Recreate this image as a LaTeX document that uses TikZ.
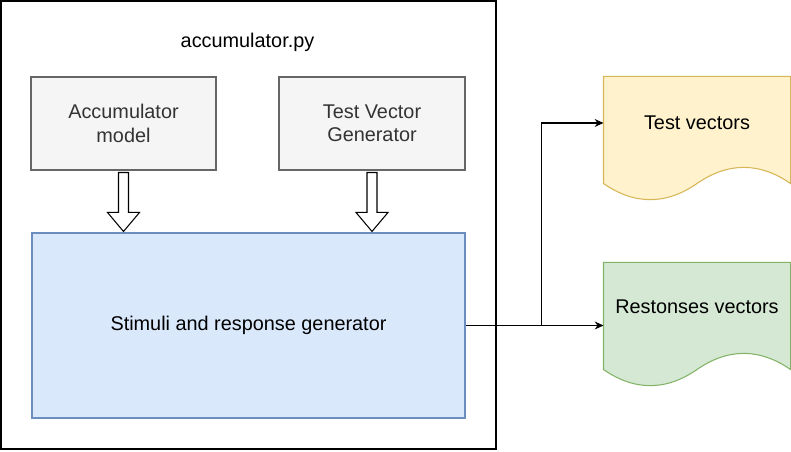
\documentclass[tikz,border=0pt]{standalone}
\usepackage{fontspec}
\setmainfont{Liberation Sans}
\usepackage{xcolor}
\usepackage{tikz}
\usetikzlibrary{arrows.meta, positioning, calc}

\definecolor{grayfill}{HTML}{F5F5F5}
\definecolor{graydraw}{HTML}{666666}
\definecolor{bluefill}{HTML}{DAE8FC}
\definecolor{bluedraw}{HTML}{6C8EBF}
\definecolor{yellowfill}{HTML}{FFF2CC}
\definecolor{yellowdraw}{HTML}{D6B656}
\definecolor{greenfill}{HTML}{D5E8D4}
\definecolor{greendraw}{HTML}{82B366}
\definecolor{labeltext}{HTML}{333333}

\begin{document}
\begin{tikzpicture}[>={Stealth[length=5pt, width=4.5pt]},
    font=\fontsize{11.3}{13.3}\selectfont, line width=0.6pt,
    modelbox/.style={draw=graydraw, fill=grayfill, text=labeltext, align=center,
        minimum width=3.7cm, minimum height=1.86cm, inner sep=0pt},
    genbox/.style={draw=bluedraw, fill=bluefill, minimum width=8.66cm,
        minimum height=3.7cm, inner sep=0pt},
    docbody/.style={minimum width=3.72cm, minimum height=2.5cm, inner sep=0pt},
    doctext/.style={minimum width=3.72cm, inner sep=0pt},
    hollowarrow/.style={draw=black, fill=white, line width=0.6pt}]

\useasboundingbox (0,0) rectangle (15.82,9.04);

% ── FILE FRAME ───────────────────────────────────────────────────
\draw[black, line width=0.8pt] (0.02,0.06) rectangle (9.92,9.02);
\node (file) at (4.95,8.2) {accumulator.py};

% ── MODELS ───────────────────────────────────────────────────────
\node[modelbox] (acc) at (2.47,6.57) {Accumulator\\model};
\node[modelbox, minimum width=3.72cm] (tvg) at (7.44,6.57) {Test Vector\\Generator};

\node[genbox] (stim) at (4.97,2.53) {Stimuli and response generator};

% Hollow block arrows into the generator
\foreach \src in {acc, tvg} {
    \draw[hollowarrow]
        ($(\src.south)+(-0.1,-0.04)$) -- ($(\src.south |- stim.north)+(-0.1,0.4)$)
        -- ++(-0.22,0) -- ($(\src.south |- stim.north)+(0,0.02)$)
        -- ($(\src.south |- stim.north)+(0.32,0.4)$) -- ++(-0.22,0)
        -- ($(\src.south)+(0.1,-0.04)$) -- cycle;
}

% ── OUTPUT DOCUMENTS ─────────────────────────────────────────────
\node[docbody] (tv) at (13.94,6.25) {};
\node[docbody] (rv) at (13.94,2.53) {};

\foreach \doc/\fc/\dc in {tv/yellowfill/yellowdraw, rv/greenfill/greendraw} {
    \draw[draw=\dc, fill=\fc]
        (\doc.north west) -- (\doc.north east) -- ($(\doc.south east)+(0,0.38)$)
        .. controls ($(\doc.south east)+(-0.62,0.81)$) and ($(\doc.south)+(0.62,0.81)$)
        .. ($(\doc.south)+(0,0.38)$)
        .. controls ($(\doc.south)+(-0.62,-0.05)$) and ($(\doc.south west)+(0.62,-0.05)$)
        .. ($(\doc.south west)+(0,0.38)$) -- cycle;
}

\node[doctext] (tvtext) at (13.94,6.58) {Test vectors};
\node[doctext] (rvtext) at (13.94,2.9) {Restonses vectors};

% Connectors
\coordinate (split) at ($(stim.east)!0.554!(rv.west)$);
\draw[->] (stim.east) -- (rv.west);
\draw[->] (split) |- (tvtext.west);

\end{tikzpicture}
\end{document}
